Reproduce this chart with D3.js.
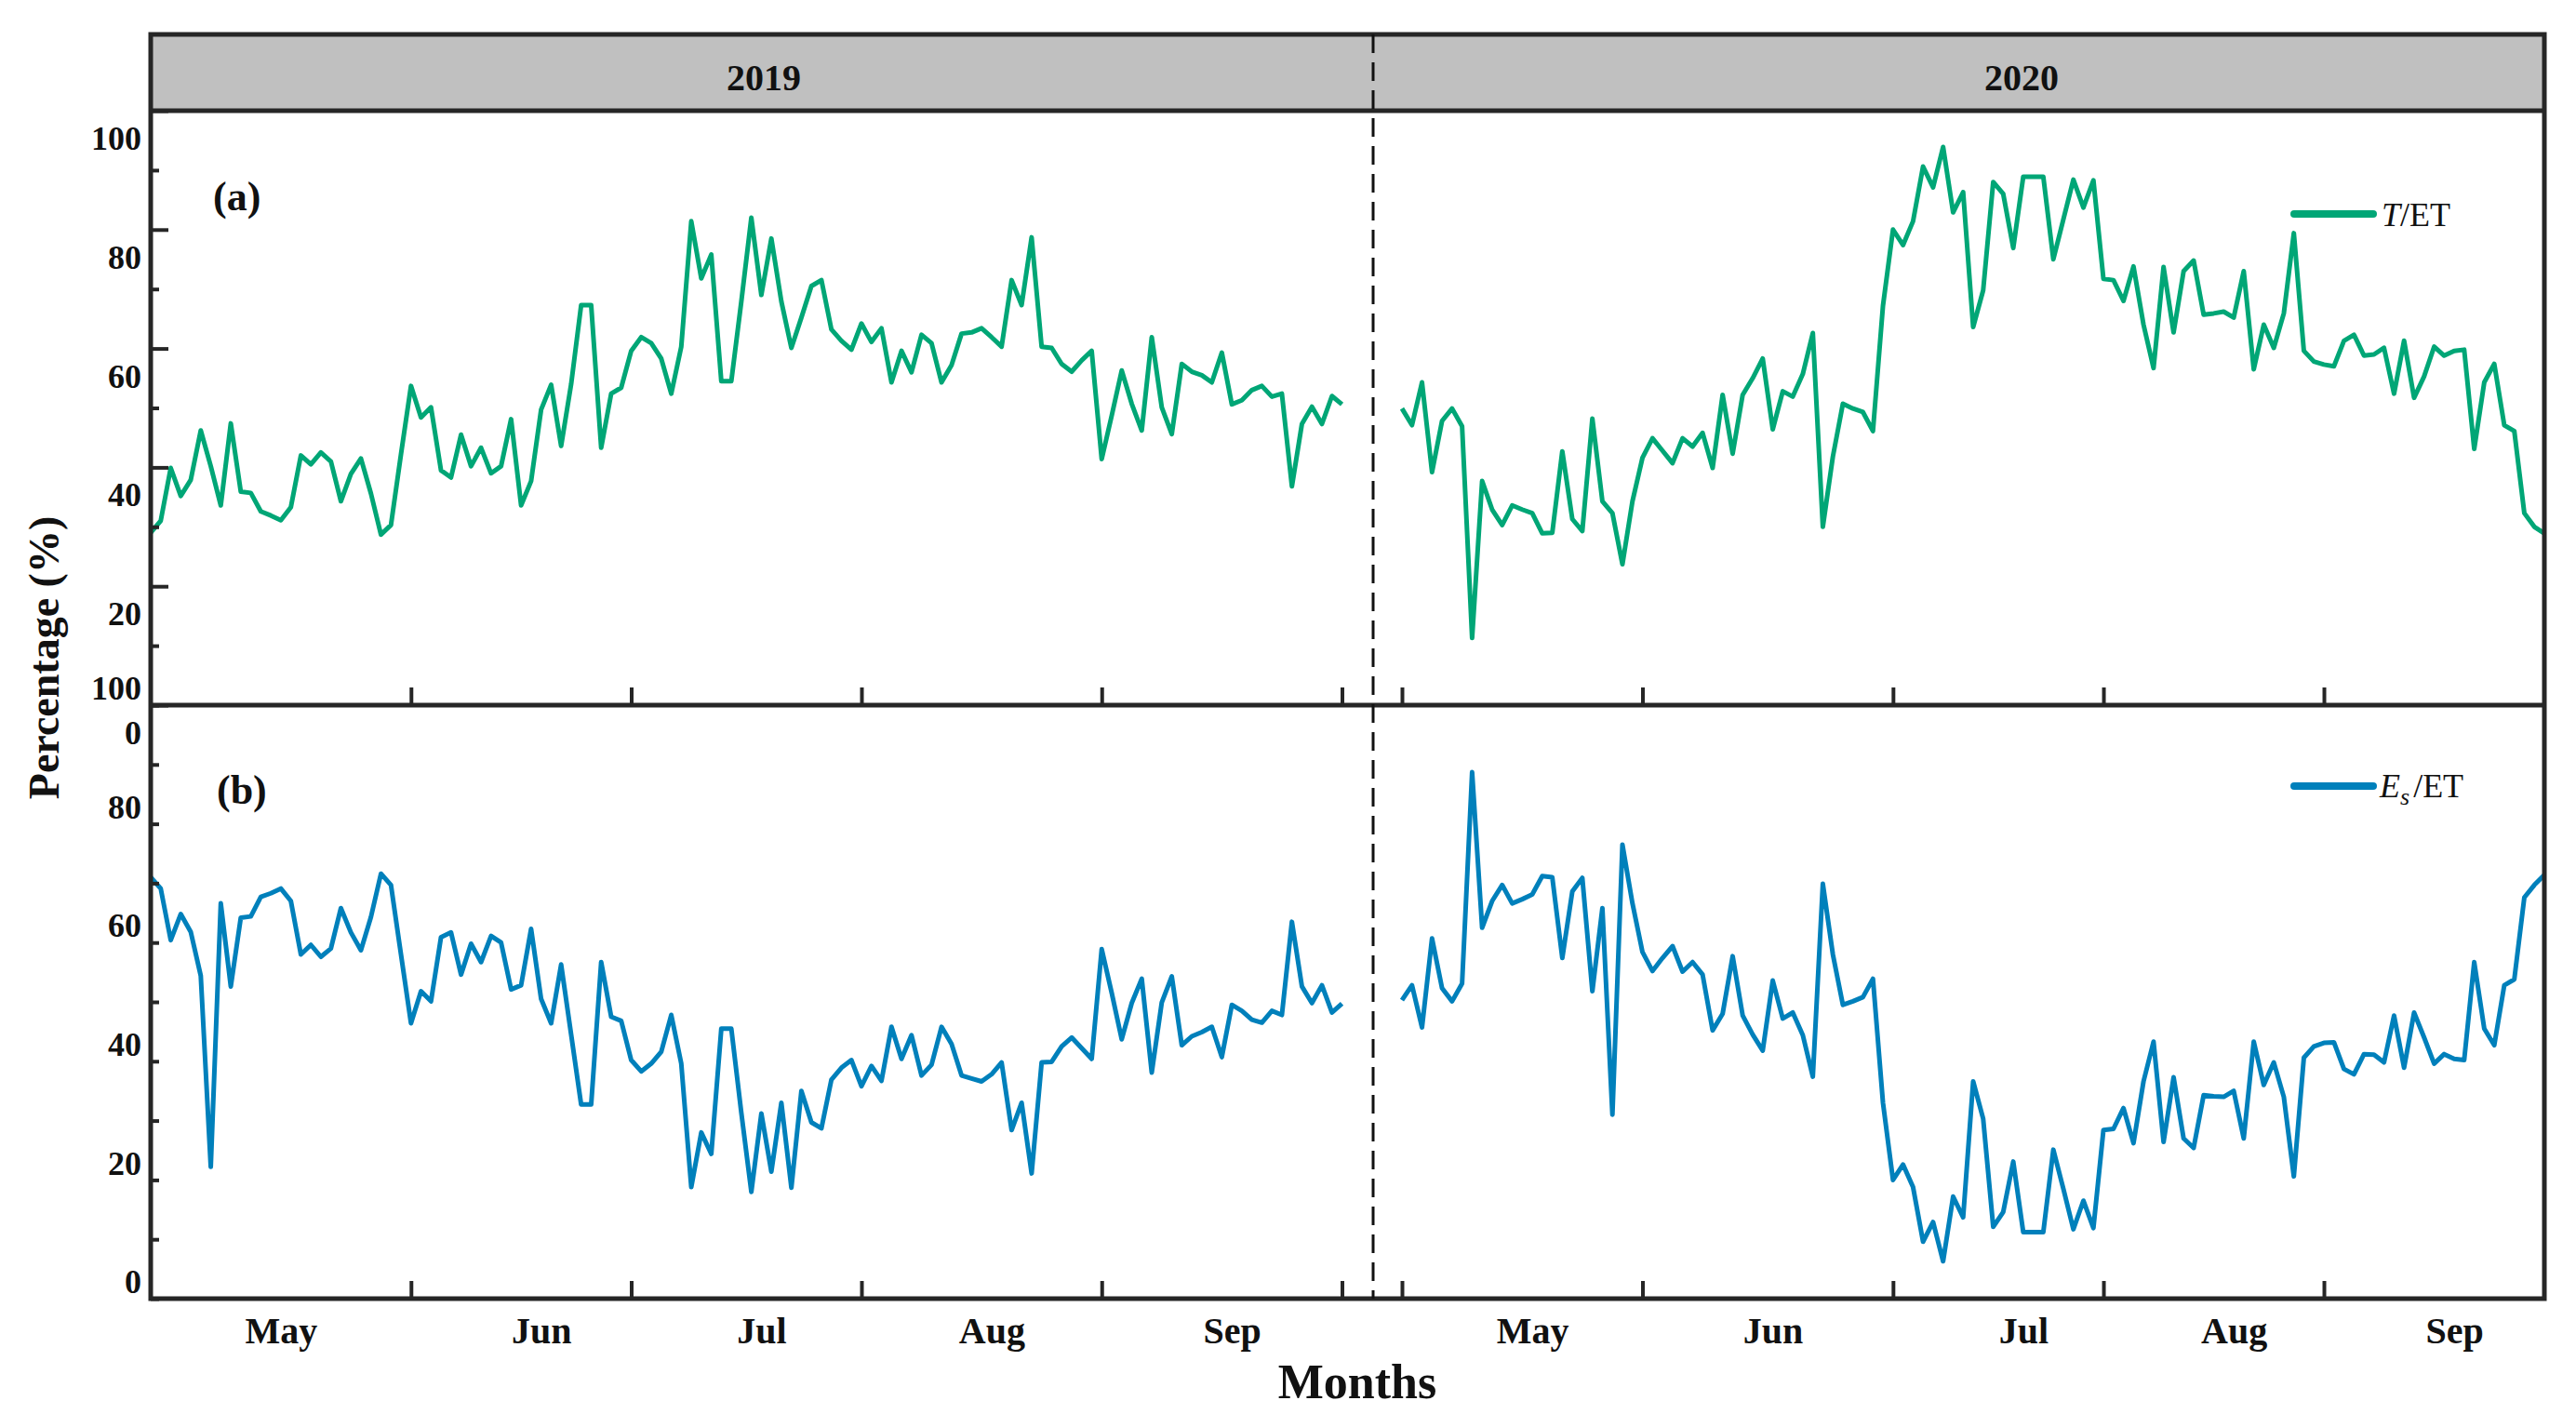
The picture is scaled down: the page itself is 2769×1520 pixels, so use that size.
<!DOCTYPE html>
<html>
<head>
<meta charset="utf-8">
<script src="https://cdn.jsdelivr.net/npm/d3@7"></script>
<style>
html,body{margin:0;padding:0;background:#fff;}
svg{display:block;}
text{font-family:"Liberation Serif","Times New Roman",serif;fill:#111;}
</style>
</head>
<body>
<svg id="chart" width="2769" height="1520"></svg>
<script>
// ---------- DATA ----------
const years = ["2019", "2020"];
const monthLabels = ["May", "Jun", "Jul", "Aug", "Sep"];
// index positions (day index within each season) of month ticks / labels
const tickIdx2019 = [26, 48, 71, 95, 119];
const tickIdx2020 = [0, 24, 49, 70, 92];
const labelIdx2019 = [13, 39, 61, 84, 108];
const labelIdx2020 = [13, 37, 62, 83, 105];
const yMajorTicks = [0, 20, 40, 60, 80, 100];
const yMinorTicks = [10, 30, 50, 70, 90];
const yAllTicks = [0, 10, 20, 30, 40, 50, 60, 70, 80, 90, 100];

// T/ET (%) 2019
const tET2019 = [
29.0,31.0,39.9,35.2,37.9,46.2,40.2,33.6,47.4,35.9,
35.7,32.6,31.9,31.1,33.3,42.0,40.5,42.5,41.0,34.3,
38.9,41.5,35.6,28.7,30.3,42.2,53.7,48.4,50.1,39.5,
38.3,45.5,40.2,43.3,39.0,40.2,48.1,33.6,37.7,49.7,
53.9,43.6,54.0,67.3,67.3,43.3,52.4,53.4,59.6,61.9,
60.9,58.3,52.4,60.3,81.4,71.8,75.8,54.5,54.5,67.9,
82.0,69.0,78.5,67.9,60.1,65.2,70.5,71.5,63.2,61.3,
59.8,64.2,61.1,63.4,54.3,59.6,56.0,62.3,60.9,54.3,
57.2,62.5,62.7,63.4,61.9,60.3,71.5,67.3,78.7,60.3,
60.1,57.4,56.1,58.0,59.6,41.4,48.7,56.3,50.7,46.2,
61.9,50.1,45.6,57.4,56.1,55.5,54.3,59.3,50.6,51.3,
53.0,53.7,51.9,52.4,36.8,47.3,50.2,47.3,52.0,50.6];

// Es/ET (%) 2019
const esET2019 = [
71.0,69.1,60.4,64.8,61.8,54.4,22.2,66.6,52.6,64.2,
64.4,67.7,68.3,69.1,67.0,58.0,59.6,57.6,59.0,65.8,
61.7,58.7,64.3,71.6,69.7,58.0,46.4,51.8,50.1,60.9,
61.7,54.6,59.8,56.7,61.1,60.0,52.1,52.8,62.3,50.5,
46.4,56.3,44.5,32.7,32.7,56.7,47.5,46.8,40.2,38.3,
39.6,41.6,47.8,39.6,18.8,28.0,24.4,45.5,45.5,31.3,
18.0,31.2,21.4,33.0,18.7,35.0,29.7,28.7,36.9,38.9,
40.2,35.8,39.2,36.7,45.8,40.4,44.4,37.6,39.4,45.8,
42.9,37.6,37.1,36.6,37.8,39.8,28.4,33.0,21.1,39.8,
39.9,42.5,44.0,42.2,40.4,58.9,51.5,43.7,49.8,53.9,
38.1,49.9,54.3,42.7,44.2,44.9,45.8,40.7,49.5,48.5,
47.0,46.5,48.5,47.8,63.5,52.6,49.8,52.8,48.2,49.7];

// T/ET (%) 2020
const tET2020 = [
49.9,47.1,54.3,39.2,47.8,49.9,46.9,11.3,37.7,32.9,
30.3,33.6,32.9,32.3,28.9,29.0,42.7,31.3,29.3,48.2,
34.3,32.3,23.7,34.3,41.6,44.9,42.8,40.7,44.9,43.5,
45.8,39.9,52.2,42.3,52.2,55.0,58.3,46.4,52.8,51.9,
55.7,62.6,30.0,41.8,50.7,49.9,49.3,46.1,67.2,80.0,
77.4,81.4,90.6,87.1,93.9,82.9,86.3,63.6,69.8,88.0,
86.0,76.9,88.9,88.9,88.9,75.0,81.7,88.4,83.7,88.3,
71.7,71.5,68.0,73.8,64.0,56.7,73.7,62.7,73.0,74.8,
65.7,65.9,66.2,65.2,73.0,56.5,64.0,60.1,65.9,79.4,
59.6,57.8,57.3,57.0,61.3,62.3,58.8,59.0,60.1,52.4,
61.3,51.7,55.3,60.3,58.8,59.6,59.8,43.1,54.3,57.4,
47.1,46.1,32.3,30.0,28.9];

// Es/ET (%) 2020
const esET2020 = [
50.3,52.8,45.7,60.7,52.3,50.1,53.1,88.7,62.5,67.0,
69.7,66.6,67.3,68.1,71.2,71.0,57.4,68.6,70.9,51.8,
65.8,31.0,76.5,66.6,58.4,55.2,57.4,59.4,55.1,56.7,
54.6,45.2,48.0,57.7,47.7,44.5,41.8,53.6,47.2,48.2,
44.4,37.4,69.9,58.0,49.5,50.1,50.8,53.9,33.0,20.0,
22.6,18.8,9.6,12.9,6.3,17.2,13.7,36.6,30.3,12.1,
14.6,23.1,11.2,11.2,11.2,25.1,18.5,11.7,16.5,11.9,
28.4,28.6,32.1,26.2,36.6,43.3,26.4,37.3,27.0,25.4,
34.3,34.1,34.0,35.0,27.0,43.3,36.0,39.8,34.0,20.6,
40.6,42.5,43.1,43.2,38.7,37.8,41.2,41.1,39.8,47.7,
38.9,48.2,44.0,39.6,41.2,40.4,40.2,56.7,45.5,42.7,
52.8,53.8,67.6,69.7,71.4];

// ---------- LAYOUT ----------
const L = 162, R = 2735, TOP = 37, HEAD_B = 119, MID = 758, BOT = 1396, DIV = 1476;
const green = "#00a676", blue = "#0080bb", frameCol = "#262626";

const svg = d3.select("#chart");

const x2019 = d3.scaleLinear().domain([0, tET2019.length - 1]).range([L, 1442.5]);
const x2020 = d3.scaleLinear().domain([0, tET2020.length - 1]).range([1507, R]);
const yA = d3.scaleLinear().domain([0, 100]).range([MID, HEAD_B]);
const yB = d3.scaleLinear().domain([0, 100]).range([BOT, MID]);

// header strip
svg.append("rect").attr("x", L).attr("y", TOP).attr("width", R - L).attr("height", HEAD_B - TOP)
  .attr("fill", "#c0c0c0");

// year titles
svg.append("text").attr("x", 821).attr("y", 97).attr("text-anchor", "middle")
  .attr("font-size", 40).attr("font-weight", "bold").text(years[0]);
svg.append("text").attr("x", 2173).attr("y", 97).attr("text-anchor", "middle")
  .attr("font-size", 40).attr("font-weight", "bold").text(years[1]);

// data lines
function drawLine(data, xs, ys, color) {
  const line = d3.line().x((d, i) => xs(i)).y(d => ys(d));
  svg.append("path").datum(data).attr("d", line).attr("fill", "none")
    .attr("stroke", color).attr("stroke-width", 5).attr("stroke-linejoin", "round");
}
drawLine(tET2019, x2019, yA, green);
drawLine(tET2020, x2020, yA, green);
drawLine(esET2019, x2019, yB, blue);
drawLine(esET2020, x2020, yB, blue);

// y axes (ticks inward)
function yAxis(scale, values, size, labels, offset) {
  const g = svg.append("g").attr("transform", `translate(${L},0)`)
    .call(d3.axisLeft(scale).tickValues(values).tickSizeInner(-size).tickSizeOuter(0)
      .tickPadding(10).tickFormat(labels ? d3.format("d") : ""));
  g.select(".domain").remove();
  g.selectAll(".tick line").attr("stroke", frameCol).attr("stroke-width", 4);
  g.selectAll(".tick text").attr("font-family", "Liberation Serif, serif")
    .attr("font-size", 36).attr("font-weight", "bold").attr("fill", "#111")
    .attr("y", offset).attr("dy", "0.35em");
}
yAxis(yA, yMinorTicks, 9, false, 0);
yAxis(yA, yMajorTicks, 19, true, 29);
yAxis(yB, yAllTicks, 9, false, 0);
yAxis(yB, yMajorTicks, 0, true, -19);

// x ticks (pointing up) for both panels
function xTicks(scale, idx, yPos) {
  const g = svg.append("g").attr("transform", `translate(0,${yPos})`)
    .call(d3.axisBottom(scale).tickValues(idx).tickSizeInner(-19).tickSizeOuter(0).tickFormat(""));
  g.select(".domain").remove();
  g.selectAll(".tick line").attr("stroke", frameCol).attr("stroke-width", 4);
}
xTicks(x2019, tickIdx2019, MID);
xTicks(x2020, tickIdx2020, MID);
xTicks(x2019, tickIdx2019, BOT);
xTicks(x2020, tickIdx2020, BOT);

// month labels
function monthAxis(scale, idx) {
  const g = svg.append("g").attr("transform", `translate(0,${BOT})`)
    .call(d3.axisBottom(scale).tickValues(idx).tickSize(0).tickPadding(0)
      .tickFormat((d, i) => monthLabels[i]));
  g.select(".domain").remove();
  g.selectAll(".tick text").attr("font-family", "Liberation Serif, serif")
    .attr("font-size", 40).attr("font-weight", "bold").attr("fill", "#111")
    .attr("y", 48).attr("dy", "0");
}
monthAxis(x2019, labelIdx2019);
monthAxis(x2020, labelIdx2020);

// frame
svg.append("rect").attr("x", L).attr("y", TOP).attr("width", R - L).attr("height", BOT - TOP)
  .attr("fill", "none").attr("stroke", frameCol).attr("stroke-width", 5);
svg.append("line").attr("x1", L).attr("x2", R).attr("y1", HEAD_B).attr("y2", HEAD_B)
  .attr("stroke", frameCol).attr("stroke-width", 5);
svg.append("line").attr("x1", L).attr("x2", R).attr("y1", MID).attr("y2", MID)
  .attr("stroke", frameCol).attr("stroke-width", 5);

// dashed year divider
svg.append("line").attr("x1", DIV).attr("x2", DIV).attr("y1", TOP).attr("y2", BOT)
  .attr("stroke", "#111").attr("stroke-width", 3).attr("stroke-dasharray", "20,10");

// panel letters
svg.append("text").attr("x", 229).attr("y", 226).attr("font-size", 44).attr("font-weight", "bold").text("(a)");
svg.append("text").attr("x", 233).attr("y", 864).attr("font-size", 44).attr("font-weight", "bold").text("(b)");

// legends
svg.append("line").attr("x1", 2466).attr("x2", 2551).attr("y1", 230).attr("y2", 230)
  .attr("stroke", green).attr("stroke-width", 8).attr("stroke-linecap", "round");
const lt = svg.append("text").attr("x", 2560).attr("y", 243).attr("font-size", 36);
lt.append("tspan").attr("font-style", "italic").text("T");
lt.append("tspan").text("/ET");

svg.append("line").attr("x1", 2466).attr("x2", 2551).attr("y1", 845).attr("y2", 845)
  .attr("stroke", blue).attr("stroke-width", 8).attr("stroke-linecap", "round");
const lb = svg.append("text").attr("x", 2558).attr("y", 857).attr("font-size", 36);
lb.append("tspan").attr("font-style", "italic").text("E");
lb.append("tspan").attr("font-style", "italic").attr("font-size", 26).attr("dy", 8).text("s");
lb.append("tspan").attr("dy", -8).attr("dx", 4).text("/ET");

// axis titles
svg.append("text").attr("x", 1459).attr("y", 1503).attr("text-anchor", "middle")
  .attr("font-size", 52).attr("font-weight", "bold").text("Months");
svg.append("text").attr("transform", "translate(63,707) rotate(-90)").attr("text-anchor", "middle")
  .attr("font-size", 46).attr("font-weight", "bold").text("Percentage (%)");
</script>
</body>
</html>
